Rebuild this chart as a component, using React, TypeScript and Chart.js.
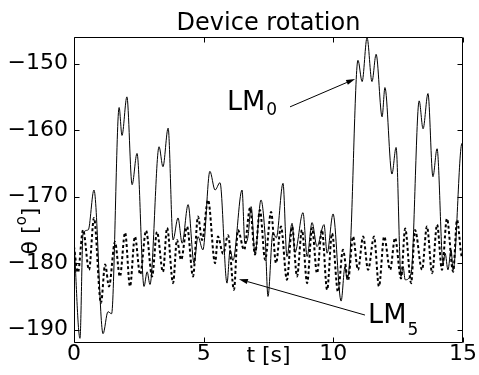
import React, { useEffect, useRef } from "react";
import { Chart, registerables } from "chart.js";

Chart.register(...registerables);

// ---- data ----
const titleText = "Device rotation";
const xLabelText = "t [s]";
const xTicks = [0, 5, 10, 15];
const yTicks = [-190, -180, -170, -160, -150];
const xRange = [0, 15];
const yRange = [-192, -146];

// LM0 (solid): [t (s), theta (deg)]
const lm0Points: [number, number][] = [
  [0, -176.5], [0.23, -191.3], [0.35, -175.5], [0.55, -175], [0.77, -169],
  [1.12, -190.6], [1.31, -187.3], [1.45, -187.6], [1.74, -156.6], [1.85, -160.8],
  [2.04, -155], [2.24, -168.2], [2.43, -163.5], [2.7, -183.5], [2.82, -181.3],
  [2.93, -183.2], [3.28, -162.5], [3.43, -165.5], [3.63, -159.7], [3.82, -176.5],
  [4.01, -173.2], [4.17, -177], [4.4, -171.2], [4.63, -180], [4.78, -176],
  [4.97, -178], [5.24, -166.2], [5.44, -169], [5.63, -167.9], [5.9, -183],
  [6.02, -178], [6.13, -179.6], [6.48, -169], [6.59, -177], [6.71, -176],
  [6.83, -171.5], [6.98, -178.6], [7.21, -170.5], [7.37, -176], [7.48, -185],
  [7.67, -175.4], [7.8, -176.2], [8.06, -168], [8.21, -179], [8.41, -174],
  [8.52, -178.4], [8.83, -172.4], [8.99, -179], [9.18, -173.9], [9.37, -177.5],
  [9.64, -174.2], [9.76, -178.5], [9.99, -172.6], [10.3, -185.7], [10.45, -180.5],
  [10.53, -182.5], [10.64, -179], [10.95, -149.5], [11.11, -152.7], [11.3, -146.1],
  [11.49, -152.7], [11.65, -148.6], [11.88, -158], [11.99, -153.6], [12.26, -166.6],
  [12.42, -162.6], [12.61, -182], [12.69, -180.5], [12.77, -182.5], [13.0, -181.5],
  [13.31, -155.6], [13.46, -159.8], [13.65, -154.5], [13.84, -167], [14.0, -162.8],
  [14.23, -180], [14.31, -178.5], [14.42, -181], [14.54, -178], [14.62, -181],
  [14.96, -162], [15.0, -162.5],
];

// LM5 (dotted): [t (s), theta (deg)]
const lm5Points: [number, number][] = [
  [0.0, -177.5], [0.15, -181.4], [0.35, -175], [0.58, -181], [0.77, -173.2],
  [1.04, -186], [1.2, -180.2], [1.35, -183.5], [1.58, -176.8], [1.77, -182],
  [1.97, -175.4], [2.16, -183.5], [2.35, -176], [2.55, -181.7], [2.78, -175.1],
  [3.01, -182], [3.2, -175.3], [3.43, -181.3], [3.59, -174.7], [3.82, -183],
  [3.97, -176.5], [4.13, -179.5], [4.36, -174.5], [4.59, -182], [4.78, -173],
  [4.94, -176.5], [5.17, -170.5], [5.44, -180], [5.55, -176], [5.75, -178.6],
  [5.94, -175.8], [6.17, -184], [6.32, -175], [6.56, -178], [6.79, -171.7],
  [6.98, -178.7], [7.17, -172], [7.37, -179.5], [7.6, -172.3], [7.79, -180],
  [7.98, -174.5], [8.21, -182.5], [8.41, -174.5], [8.6, -182], [8.79, -175],
  [8.99, -183], [9.18, -174.7], [9.37, -181.5], [9.56, -175], [9.76, -184],
  [9.95, -175.5], [10.18, -184.3], [10.37, -178], [10.57, -182.5], [10.76, -176],
  [10.95, -181], [11.15, -176], [11.34, -181], [11.57, -176], [11.76, -183.5],
  [11.96, -176], [12.19, -181], [12.38, -176.2], [12.61, -182.3], [12.77, -174.8],
  [13.0, -183], [13.15, -175], [13.42, -181], [13.61, -174.5], [13.81, -181.5],
  [14.0, -174.2], [14.19, -181], [14.38, -173.3], [14.62, -181.3], [14.77, -173.5],
  [14.96, -179], [15.0, -178],
];

// annotations in data coordinates: label anchor, arrow start, arrow tip
const lm0Label = { main: "LM", sub: "0", at: [5.9, -156.97], subDrop: 5.5, from: [8.33, -156.5], to: [10.84, -152.3] };
const lm5Label = { main: "LM", sub: "5", at: [11.34, -189.0], subDrop: 12, from: [11.22, -187.8], to: [6.36, -182.4] };

const FONT = '"DejaVu Sans", "Liberation Sans", Arial, sans-serif';

const matlabPlugin = {
  id: "matlabDecor",
  afterDraw(chart: any) {
    const { ctx, chartArea: a, scales } = chart;
    const xs = scales.x;
    const ys = scales.y;
    ctx.save();
    ctx.strokeStyle = "#000";
    ctx.fillStyle = "#000";
    ctx.lineWidth = 1;
    const L = Math.round(a.left) + 0.5;
    const R = Math.round(a.right) - 0.5;
    const T = Math.round(a.top) + 0.5;
    const B = Math.round(a.bottom) - 0.5;
    ctx.beginPath();
    ctx.rect(L, T, R - L, B - T);
    ctx.stroke();
    const tl = 5;
    ctx.beginPath();
    for (const v of xTicks) {
      const px = Math.round(xs.getPixelForValue(v)) + 0.5;
      ctx.moveTo(px, B); ctx.lineTo(px, B - tl);
      ctx.moveTo(px, T); ctx.lineTo(px, T + tl);
    }
    for (const v of yTicks) {
      const py = Math.round(ys.getPixelForValue(v)) + 0.5;
      ctx.moveTo(L, py); ctx.lineTo(L + tl, py);
      ctx.moveTo(R, py); ctx.lineTo(R - tl, py);
    }
    ctx.stroke();

    // title
    ctx.font = `24px ${FONT}`;
    ctx.textAlign = "center";
    ctx.textBaseline = "alphabetic";
    ctx.fillText(titleText, (a.left + a.right) / 2, 30);
    // x label
    ctx.font = `22px ${FONT}`;
    ctx.fillText(xLabelText, (a.left + a.right) / 2, 362);

    // y label rotated: θ [°] with superscript o
    ctx.save();
    ctx.translate(37, 231);
    ctx.rotate(-Math.PI / 2);
    const big = `22px ${FONT}`;
    const small = `15px ${FONT}`;
    ctx.font = big;
    const p1 = "θ [";
    const p3 = "]";
    const w1 = ctx.measureText(p1).width;
    const w3 = ctx.measureText(p3).width;
    ctx.font = small;
    const w2 = ctx.measureText("o").width;
    let sx = -(w1 + w2 + w3) / 2;
    ctx.textAlign = "left";
    ctx.font = big;
    ctx.fillText(p1, sx, 0);
    sx += w1;
    ctx.font = small;
    ctx.fillText("o", sx, -11);
    sx += w2;
    ctx.font = big;
    ctx.fillText(p3, sx, 0);
    ctx.restore();

    // annotations
    const drawLabel = (lab: any) => {
      const x = xs.getPixelForValue(lab.at[0]);
      const y = ys.getPixelForValue(lab.at[1]);
      ctx.textAlign = "left";
      ctx.font = `27px ${FONT}`;
      ctx.fillText(lab.main, x, y);
      const w = ctx.measureText(lab.main).width;
      ctx.font = `17px ${FONT}`;
      ctx.fillText(lab.sub, x + w + 1, y + lab.subDrop);
      const x0 = xs.getPixelForValue(lab.from[0]);
      const y0 = ys.getPixelForValue(lab.from[1]);
      const x1 = xs.getPixelForValue(lab.to[0]);
      const y1 = ys.getPixelForValue(lab.to[1]);
      const ang = Math.atan2(y1 - y0, x1 - x0);
      const hl = 9, hw = 2.6;
      const bx = x1 - hl * Math.cos(ang);
      const by = y1 - hl * Math.sin(ang);
      ctx.beginPath();
      ctx.moveTo(x0, y0);
      ctx.lineTo(bx, by);
      ctx.stroke();
      ctx.beginPath();
      ctx.moveTo(x1, y1);
      ctx.lineTo(bx - hw * Math.sin(ang), by + hw * Math.cos(ang));
      ctx.lineTo(bx + hw * Math.sin(ang), by - hw * Math.cos(ang));
      ctx.closePath();
      ctx.fill();
    };
    drawLabel(lm0Label);
    drawLabel(lm5Label);
    ctx.restore();
  },
};

export default function App() {
  const ref = useRef<HTMLCanvasElement | null>(null);
  useEffect(() => {
    if (!ref.current) return;
    const chart = new Chart(ref.current, {
      type: "line",
      data: {
        datasets: [
          {
            label: "LM0",
            data: lm0Points.map(([t, v]) => ({ x: t, y: v })),
            borderColor: "#000",
            borderWidth: 1,
            pointRadius: 0,
            tension: 0.4,
            cubicInterpolationMode: "monotone",
            fill: false,
          },
          {
            label: "LM5",
            data: lm5Points.map(([t, v]) => ({ x: t, y: v })),
            borderColor: "#000",
            borderWidth: 2,
            borderDash: [3, 2.5],
            pointRadius: 0,
            tension: 0.4,
            cubicInterpolationMode: "monotone",
            fill: false,
          },
        ],
      },
      options: {
        responsive: false,
        animation: false,
        devicePixelRatio: 1,
        layout: { padding: { top: 37, right: 16, left: 0, bottom: 0 } },
        plugins: {
          legend: { display: false },
          tooltip: { enabled: false },
          title: { display: false },
        },
        scales: {
          x: {
            type: "linear",
            min: xRange[0],
            max: xRange[1],
            afterBuildTicks: (s: any) => {
              s.ticks = xTicks.map((v) => ({ value: v }));
            },
            afterFit: (s: any) => {
              s.height = 32;
            },
            grid: { display: false, drawTicks: false },
            border: { display: false },
            ticks: {
              font: { family: FONT, size: 22 },
              color: "#000",
              padding: -2,
              maxRotation: 0,
              autoSkip: false,
              callback: (v: any) => String(v),
            },
          },
          y: {
            type: "linear",
            min: yRange[0],
            max: yRange[1],
            afterBuildTicks: (s: any) => {
              s.ticks = yTicks.map((v) => ({ value: v }));
            },
            afterFit: (s: any) => {
              s.width = 74;
            },
            grid: { display: false, drawTicks: false },
            border: { display: false },
            ticks: {
              font: { family: FONT, size: 22 },
              color: "#000",
              padding: 6,
              autoSkip: false,
              callback: (v: any) => String(v).replace("-", "\u2212"),
            },
          },
        },
      },
      plugins: [matlabPlugin],
    } as any);
    return () => chart.destroy();
  }, []);
  return (
    <div style={{ position: "absolute", left: 0, top: 0, width: 479, height: 375, background: "#fff" }}>
      <canvas ref={ref} width={479} height={375} style={{ display: "block" }} />
    </div>
  );
}
